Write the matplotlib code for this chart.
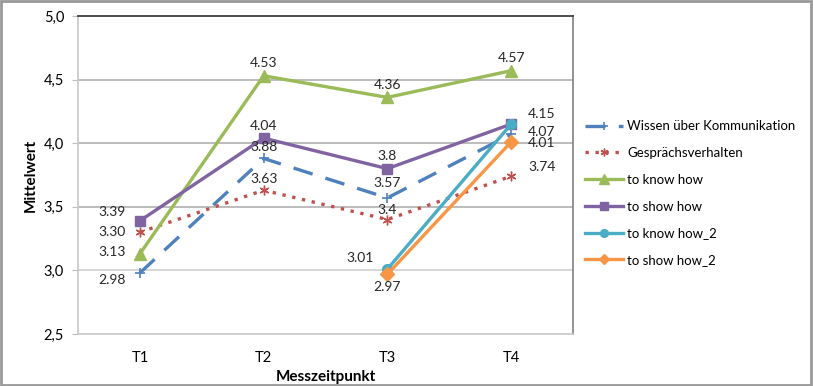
import numpy as np
import matplotlib
matplotlib.use('Agg')
import matplotlib.pyplot as plt
from matplotlib.patches import Rectangle

plt.rcParams['font.family'] = ['Lato', 'DejaVu Sans']

# Daten
zeitpunkte = ['T1', 'T2', 'T3', 'T4']
wissen = [2.98, 3.88, 3.57, 4.07]
gespraech = [3.30, 3.63, 3.4, 3.74]
know_how = [3.13, 4.53, 4.36, 4.57]
show_how = [3.39, 4.04, 3.8, 4.15]
know_how_2 = [np.nan, np.nan, 3.01, 4.15]
show_how_2 = [np.nan, np.nan, 2.97, 4.01]

# Beschriftungstexte wie im Original (z.B. "3.30", "3.4");
# 4.15 von "to know how_2" liegt genau unter dem von "to show how"
wissen_txt = ['2.98', '3.88', '3.57', '4.07']
gespraech_txt = ['3.30', '3.63', '3.4', '3.74']
know_how_txt = ['3.13', '4.53', '4.36', '4.57']
show_how_txt = ['3.39', '4.04', '3.8', '4.15']
know_how_2_txt = ['', '', '3.01', '']
show_how_2_txt = ['', '', '2.97', '4.01']

y_ticks = [2.5, 3.0, 3.5, 4.0, 4.5, 5.0]

# Position der Datenbeschriftung relativ zum Punkt (Offset in Punkten)
offsets = {
    'wissen': [(-20, -5), (0, 8), (0, 11), (22, 2)],
    'gespraech': [(-20, 0), (0, 8), (0, 7), (22, 7)],
    'know_how': [(-20, 1), (0, 9), (0, 9), (0, 9)],
    'show_how': [(-20, 6), (0, 9), (0, 9), (22, 7)],
    'know_how_2': [None, None, (-20, 8), (22, 7)],
    'show_how_2': [None, None, (0, -9), (22, -1)],
}

fig = plt.figure(figsize=(8.13, 3.86), dpi=100)
ax = fig.add_axes([78 / 813, 52 / 386, 495 / 813, 318 / 386])

x = np.arange(len(zeitpunkte))

series = [
    ('Wissen über Kommunikation', wissen, wissen_txt, 'wissen',
     dict(color='#4F81BD', ls=(0, (6, 4)), marker='+', ms=7, mew=1.2)),
    ('Gesprächsverhalten', gespraech, gespraech_txt, 'gespraech',
     dict(color='#C0504D', ls=(0, (1, 2)), marker=(6, 2, 0), ms=7, mew=1.0)),
    ('to know how', know_how, know_how_txt, 'know_how',
     dict(color='#9BBB59', ls='-', marker='^', ms=9)),
    ('to show how', show_how, show_how_txt, 'show_how',
     dict(color='#8064A2', ls='-', marker='s', ms=7)),
    ('to know how_2', know_how_2, know_how_2_txt, 'know_how_2',
     dict(color='#4BACC6', ls='-', marker='o', ms=7)),
    ('to show how_2', show_how_2, show_how_2_txt, 'show_how_2',
     dict(color='#F79646', ls='-', marker='D', ms=7)),
]

for name, vals, txts, key, style in series:
    ax.plot(x, vals, lw=2.4, label=name, zorder=3, **style)
    for i, (v, t) in enumerate(zip(vals, txts)):
        off = offsets[key][i]
        if off is None or np.isnan(v) or not t:
            continue
        ax.annotate(t, (x[i], v), xytext=off, textcoords='offset points',
                    ha='center', va='center', fontsize=10, color='#262626', zorder=4)

ax.set_xlim(-0.5, 3.5)
ax.set_ylim(2.5, 5.0)
ax.set_xticks(x)
ax.set_xticklabels(zeitpunkte)
ax.set_yticks(y_ticks)
ax.set_yticklabels([f'{t:.1f}'.replace('.', ',') for t in y_ticks])
ax.tick_params(axis='x', length=0, pad=12, labelsize=10.5)
ax.tick_params(axis='y', length=4, color='#bfbfbf', labelsize=10.5, pad=6)

for t in y_ticks[1:-1]:
    ax.axhline(t, color='#b0b0b0' if t > 3.0 else '#cfcfcf', lw=1.2, zorder=1)

ax.spines['top'].set_color('#303030')
ax.spines['right'].set_color('#808080')
ax.spines['left'].set_color('#c8c8c8')
ax.spines['bottom'].set_color('#c8c8c8')
for s in ax.spines.values():
    s.set_linewidth(1.2)

ax.set_ylabel('Mittelwert', fontweight='bold', fontsize=11, labelpad=4)
ax.set_xlabel('Messzeitpunkt', fontweight='bold', fontsize=11, labelpad=4)

ax.legend(loc='center left', bbox_to_anchor=(1.0, 0.443), frameon=False,
          fontsize=9.5, handlelength=2.9, handletextpad=0.3, labelspacing=1.12,
          markerscale=0.8)

fig.patches.append(Rectangle((0.001, 0.002), 0.997, 0.995, transform=fig.transFigure,
                             fill=False, edgecolor='#999999', lw=2))

fig.savefig('out.png', dpi=100)
